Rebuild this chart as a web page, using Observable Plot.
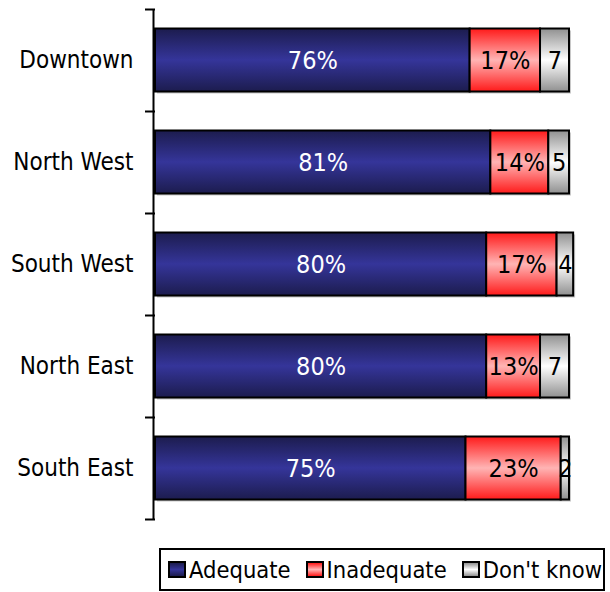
<!DOCTYPE html>
<html>
<head>
<meta charset="utf-8">
<script src="https://cdn.jsdelivr.net/npm/d3@7"></script>
<script src="https://cdn.jsdelivr.net/npm/@observablehq/plot@0.6"></script>
<style>
  body { margin: 0; background: #fff; font-family: 'DejaVu Sans Condensed', 'DejaVu Sans', sans-serif; font-stretch: condensed; }
  #wrap { position: relative; width: 610px; height: 592px; }
  #legend { position: absolute; left: 159px; top: 548px; width: 446px; height: 43px; box-sizing: border-box; white-space: nowrap;
    border: 2px solid #000; display: flex; align-items: center; padding-left: 7px; font-size: 23.5px; color: #000; }
  .item { display: flex; align-items: center; margin-right: 15px; white-space: nowrap; flex: none; }
  .sw { width: 18px; height: 17px; box-sizing: border-box; border: 2px solid #000; margin-right: 3px; }
</style>
</head>
<body>
<div id="wrap"><div id="chart"></div><div id="legend"></div></div>
<script>
const categories = ["Downtown", "North West", "South West", "North East", "South East"];
const seriesNames = ["Adequate", "Inadequate", "Don't know"];
const adequate = [76, 81, 80, 80, 75];
const inadequate = [17, 14, 17, 13, 23];
const dontKnow = [7, 5, 4, 7, 2];
const labelSuffix = ["%", "%", ""];

const seriesValues = [adequate, inadequate, dontKnow];
const gradId = {"Adequate": "gA", "Inadequate": "gI", "Don't know": "gD"};
const gradStops = {
  gA: ["#1c1c4e", "#35359a", "#1c1c4e"],
  gI: ["#ff1a1a", "#ffb4b4", "#ff1a1a"],
  gD: ["#909090", "#ffffff", "#909090"]
};

const rows = categories.flatMap((c, i) => seriesValues.map((arr, k) => ({
  region: c, i, i1: i + 1, ic: i + 0.5, series: seriesNames[k], value: arr[i], label: arr[i] + labelSuffix[k]
})));
const totals = categories.map((c, i) => ({region: c, i, i1: i + 1, total: seriesValues.reduce((s, a) => s + a[i], 0)}));

const inset = 19.5;
const svg = Plot.plot({
  width: 610,
  height: 540,
  marginLeft: 155,
  marginRight: 41,
  marginTop: 9,
  marginBottom: 21,
  style: {fontFamily: "'DejaVu Sans Condensed', 'DejaVu Sans', sans-serif", fontSize: "24px", background: "#fff", color: "#000"},
  x: {domain: [0, 100], axis: null},
  y: {domain: [0, 5], reverse: true, axis: null},
  color: {type: "identity"},
  marks: [
    Plot.rect(totals, {x1: 0, x2: "total", y1: "i", y2: "i1", insetTop: inset, insetBottom: inset, fill: "#c8c8c8", dx: 2, dy: 2}),
    Plot.rectX(rows, Plot.stackX({x: "value", y1: "i", y2: "i1", insetTop: inset, insetBottom: inset,
      fill: d => `url(#${gradId[d.series]})`, stroke: "#000", strokeWidth: 2})),
    Plot.text(rows, Plot.stackX({x: "value", y: "ic", text: "label", fontSize: 25,
      fill: d => d.series === "Adequate" ? "white" : "black"})),
    Plot.ruleX([0], {y1: 0, y2: 5, dx: -2, stroke: "#000", strokeWidth: 2}),
    Plot.axisY({ticks: [0, 1, 2, 3, 4, 5], tickSize: 10, tickFormat: () => "", strokeWidth: 2, label: null}),
    Plot.axisY({ticks: categories.map((c, i) => i + 0.5), tickSize: 0, tickPadding: 22,
      tickFormat: d => categories[Math.round(d - 0.5)], fontSize: 24, label: null})
  ]
});

const defs = d3.select(svg).insert("defs", ":first-child");
for (const [id, stops] of Object.entries(gradStops)) {
  const g = defs.append("linearGradient").attr("id", id).attr("x1", 0).attr("y1", 0).attr("x2", 0).attr("y2", 1);
  stops.forEach((c, j) => g.append("stop").attr("offset", j / (stops.length - 1)).attr("stop-color", c));
}
document.getElementById("chart").appendChild(svg);

const legend = document.getElementById("legend");
seriesNames.forEach(name => {
  const s = gradStops[gradId[name]];
  const item = document.createElement("div");
  item.className = "item";
  const sw = document.createElement("div");
  sw.className = "sw";
  sw.style.background = `linear-gradient(to bottom, ${s[0]}, ${s[1]}, ${s[2]})`;
  const t = document.createElement("span");
  t.textContent = name;
  item.appendChild(sw);
  item.appendChild(t);
  legend.appendChild(item);
});
</script>
</body>
</html>
